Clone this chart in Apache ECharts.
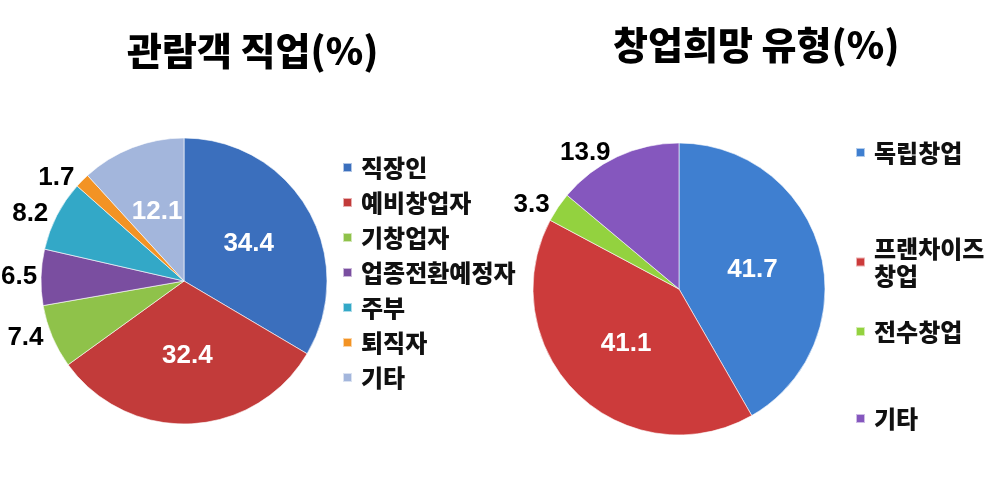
<!DOCTYPE html>
<html>
<head>
<meta charset="utf-8">
<script src="https://cdn.jsdelivr.net/npm/echarts@6/dist/echarts.min.js"></script>
<style>
  html, body { margin: 0; padding: 0; background: #ffffff; }
  #chart { width: 1002px; height: 478px; }
</style>
</head>
<body>
<div id="chart"></div>
<script>
// ---- data ----
const leftTitle = '관람객 직업(%)';
const leftCategories = ['직장인', '예비창업자', '기창업자', '업종전환예정자', '주부', '퇴직자', '기타'];
const leftValues = [34.4, 32.4, 7.4, 6.5, 8.2, 1.7, 12.1];

const rightTitle = '창업희망 유형(%)';
const rightCategories = ['독립창업', '프랜차이즈 창업', '전수창업', '기타'];
const rightValues = [41.7, 41.1, 3.3, 13.9];

// ---- styles ----
const leftColors = ['#3b6fbd', '#c23b3a', '#8fc24a', '#7a4ea0', '#33a8c7', '#f39324', '#a3b6dc'];
const leftInside = [true, true, false, false, false, false, true];
const rightColors = ['#3f7fd0', '#cc3b3b', '#93d23f', '#8557be'];
const rightInside = [true, true, false, false];

const cjk = '"Noto Sans CJK KR", "Noto Sans", sans-serif';
const num = '"Liberation Sans", Arial, sans-serif';

function buildData(names, values, colors, inside) {
  return names.map((n, i) => ({
    name: n,
    value: values[i],
    itemStyle: { color: colors[i] },
    label: inside[i]
      ? { position: 'inside', color: '#ffffff' }
      : { position: 'outside', color: '#000000' },
    labelLine: { show: false, length: 4, length2: 0 }
  }));
}

const legendText = { fontFamily: cjk, fontWeight: 900, fontSize: 24, color: '#111', lineHeight: 27, padding: [0, 0, 0, 4] };
const titleText = { fontFamily: cjk, fontWeight: 900, fontSize: 38, color: '#000' };

const rightLegendTops = [134, 230, 313, 400];

// keep outside labels inside the canvas
function keepInside(params) {
  const r = params.labelRect;
  return { dx: r.x < 1 ? 1 - r.x : 0 };
}

const option = {
  backgroundColor: '#ffffff',
  animation: false,
  title: [
    { text: leftTitle, left: 122, top: 27, textStyle: titleText },
    { text: rightTitle, left: 608, top: 21, textStyle: titleText }
  ],
  legend: [
    {
      orient: 'vertical', left: 337, top: 149, itemGap: 8, itemWidth: 9, itemHeight: 9, icon: 'rect',
      selectedMode: false, textStyle: legendText,
      data: leftCategories.map((n, i) => ({ name: n, itemStyle: { color: leftColors[i] } }))
    }
  ].concat(rightCategories.map((n, i) => ({
    orient: 'vertical', left: 850, top: rightLegendTops[i], itemWidth: 9, itemHeight: 9, icon: 'rect',
    selectedMode: false, textStyle: legendText,
    formatter: (name) => name.replace(' ', '\n'),
    data: [{ name: n, itemStyle: { color: rightColors[i] } }]
  }))),
  series: [
    {
      type: 'pie', center: [184, 281], radius: 143, startAngle: 90, clockwise: true,
      avoidLabelOverlap: false,
      itemStyle: { borderColor: 'rgba(255,255,255,0.6)', borderWidth: 1 },
      label: { show: true, formatter: (p) => p.value.toFixed(1), fontFamily: num, fontWeight: 'bold', fontSize: 26 },
      labelLayout: keepInside,
      emphasis: { disabled: true },
      data: buildData(leftCategories, leftValues, leftColors, leftInside)
    },
    {
      type: 'pie', center: [679, 289], radius: 146, startAngle: 90, clockwise: true,
      avoidLabelOverlap: false,
      itemStyle: { borderColor: 'rgba(255,255,255,0.6)', borderWidth: 1 },
      label: { show: true, formatter: (p) => p.value.toFixed(1), fontFamily: num, fontWeight: 'bold', fontSize: 26 },
      labelLayout: keepInside,
      emphasis: { disabled: true },
      data: buildData(rightCategories, rightValues, rightColors, rightInside)
    }
  ]
};

const chart = echarts.init(document.getElementById('chart'));
chart.setOption(option);
</script>
</body>
</html>
